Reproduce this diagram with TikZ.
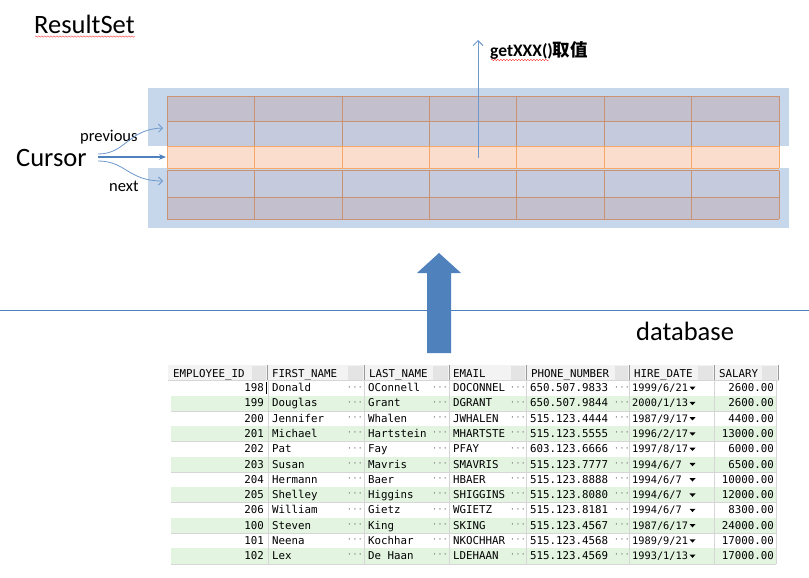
\documentclass[tikz,border=0pt]{standalone}
\usepackage{fontspec}
\setmainfont{Carlito}
\newfontfamily\cjk{Noto Sans CJK SC}
\newfontfamily\mono{DejaVu Sans Mono}
\usetikzlibrary{arrows.meta,decorations.pathmorphing}
\definecolor{bgblue}{HTML}{C6D6EB}
\definecolor{rowA}{HTML}{C4BFCC}
\definecolor{rowB}{HTML}{C5CBDC}
\definecolor{rowO}{HTML}{FADDCD}
\definecolor{gridln}{HTML}{C99373}
\definecolor{orln}{HTML}{F6A868}
\definecolor{arrblue}{HTML}{4F81BD}
\definecolor{thinblue}{HTML}{6E98CB}
\definecolor{grn}{HTML}{E3F5E1}
\definecolor{cellln}{HTML}{D6D6D6}
\definecolor{hdrln}{HTML}{9A9A9A}
\definecolor{hdrbg}{HTML}{F3F3F3}
\definecolor{btnbg}{HTML}{E4E4E4}
\tikzset{
  bigtxt/.style={anchor=base west, inner sep=0pt, font=\fontsize{26.5}{31}\selectfont},
  midtxt/.style={anchor=base west, inner sep=0pt, font=\fontsize{16.5}{19}\selectfont},
  cell/.style={anchor=base west, inner sep=0pt, font=\mono\fontsize{10.8}{13}\selectfont},
  rcell/.style={anchor=base east, inner sep=0pt, font=\mono\fontsize{10.8}{13}\selectfont},
  dcell/.style={anchor=base west, inner sep=0pt, font=\mono\fontsize{10.3}{12}\selectfont},
  dots/.style={inner sep=0pt, text=gray, font=\mono\fontsize{9}{10}\selectfont},
  thinarrow/.style={draw=thinblue, line width=0.8pt, -{Straight Barb[length=4pt,width=8pt]}},
  wavy/.style={draw=red!80, line width=0.4pt, decorate, decoration={snake, amplitude=0.7pt, segment length=3pt}}
}
\begin{document}
\begin{tikzpicture}[x=1pt,y=-1pt]
\useasboundingbox (0,0) rectangle (809,578);
\fill[white] (0,0) rectangle (809,578);

% ---------- ResultSet block ----------
\fill[bgblue] (148,88) rectangle (789,146);
\fill[bgblue] (148,168) rectangle (789,228);
\fill[rowA] (167,96) rectangle (779,121);
\fill[rowB] (167,121) rectangle (779,146);
\fill[rowO] (167,146) rectangle (779,168);
\fill[rowB] (167,170.5) rectangle (779,197);
\fill[rowA] (167,197) rectangle (779,219);
\foreach \y in {96,121,170.5,197,219} \draw[gridln, line width=0.8pt] (167,\y) -- (779,\y);
\foreach \y in {146,168} \draw[orln, line width=0.8pt] (167,\y) -- (779,\y);
\foreach \x in {167,254.4,341.9,429.3,516.7,604.1,691.6,779} {
  \draw[gridln, line width=0.8pt] (\x,96) -- (\x,146);
  \draw[orln, line width=0.8pt] (\x,146) -- (\x,168);
  \draw[gridln, line width=0.8pt] (\x,170.5) -- (\x,219);
}

\node[bigtxt] (rs) at (34,34) {ResultSet};
\draw[wavy] (rs.base west) ++(1,2.5) coordinate (wv1) -- ([xshift=0pt,yshift=-2.5pt]rs.base east);

\node[bigtxt] (cursor) at (16,166) {Cursor};
\node[midtxt] (prev) at (80,141) {previous};
\node[midtxt] (next) at (109,191) {next};

\coordinate (cs) at (98,157);
\coordinate (csu) at (98,154);
\coordinate (csd) at (98,161);
\coordinate (curRow) at (166,157);
\coordinate (prevRow) at (163,128);
\coordinate (nextRow) at (163,181);
\draw[arrblue, line width=1.5pt, -{Stealth[length=7pt,width=5.5pt]}] (cs) -- (curRow);
\draw[thinarrow] (csu) .. controls (126,154) and (128,129) .. (prevRow);
\draw[thinarrow] (csd) .. controls (126,161) and (128,181) .. (nextRow);

\coordinate (getFrom) at (478,158);
\coordinate (getTo) at (478,40);
\draw[thinblue, line width=0.9pt, -{Straight Barb[length=5pt,width=10pt]}] (getFrom) -- (getTo);
\node[anchor=base west, inner sep=0pt, font=\bfseries\fontsize{17.5}{20}\selectfont] (getx) at (490,57) {getXXX(){\cjk\bfseries 取值}};
\draw[wavy] (491,60) -- (549,60);

% ---------- separator and block arrow ----------
\draw[arrblue, line width=1pt] (0,310) -- (809,310);
\fill[arrblue] (427,353) -- (451,353) -- (451,273) -- (461,273) -- (439,253) -- (417,273) -- (427,273) -- cycle;
\node[bigtxt] (db) at (636,340) {database};

% ---------- table ----------
\fill[hdrbg] (168,365) rectangle (779,380.5);
\foreach \a/\b in {252/266,348/363,433/448,511/525,615/628,698/713,762/777}
  \fill[btnbg] (\a,366) rectangle (\b,380);
\foreach \x in {267,364,449,526,629,714,778} \draw[hdrln, line width=0.8pt] (\x,365) -- (\x,380);
\draw[cellln] (168,380.5) -- (779,380.5);
\node[cell] (h1) at (173,377) {EMPLOYEE\_ID};
\node[cell] (h2) at (272,377) {FIRST\_NAME};
\node[cell] (h3) at (369,377) {LAST\_NAME};
\node[cell] (h4) at (453,377) {EMAIL};
\node[cell] (h5) at (531,377) {PHONE\_NUMBER};
\node[cell] (h6) at (634,377) {HIRE\_DATE};
\node[cell] (h7) at (719,377) {SALARY};

\foreach \i/\id/\fn/\ln/\em/\ph/\hd/\sa in {
  0/198/Donald/OConnell/DOCONNEL/650.507.9833/{1999/6/21}/2600.00,
  1/199/Douglas/Grant/DGRANT/650.507.9844/{2000/1/13}/2600.00,
  2/200/Jennifer/Whalen/JWHALEN/515.123.4444/{1987/9/17}/4400.00,
  3/201/Michael/Hartstein/MHARTSTE/515.123.5555/{1996/2/17}/13000.00,
  4/202/Pat/Fay/PFAY/603.123.6666/{1997/8/17}/6000.00,
  5/203/Susan/Mavris/SMAVRIS/515.123.7777/{1994/6/7}/6500.00,
  6/204/Hermann/Baer/HBAER/515.123.8888/{1994/6/7}/10000.00,
  7/205/Shelley/Higgins/SHIGGINS/515.123.8080/{1994/6/7}/12000.00,
  8/206/William/Gietz/WGIETZ/515.123.8181/{1994/6/7}/8300.00,
  9/100/Steven/King/SKING/515.123.4567/{1987/6/17}/24000.00,
  10/101/Neena/Kochhar/NKOCHHAR/515.123.4568/{1989/9/21}/17000.00,
  11/102/Lex/De Haan/LDEHAAN/515.123.4569/{1993/1/13}/17000.00} {
  \pgfmathsetmacro{\top}{380.5+15.27*\i}
  \pgfmathsetmacro{\bot}{\top+15.27}
  \pgfmathsetmacro{\bl}{\top+11.2}
  \pgfmathsetmacro{\mid}{\top+7.6}
  \ifodd\i \fill[grn] (171,\top) rectangle (776,\bot); \fi
  \draw[cellln] (171,\bot) -- (776,\bot);
  \foreach \x in {268,364,449,526,629,714,776} \draw[cellln] (\x,\top) -- (\x,\bot);
  \node[rcell] (id\i) at (264,\bl) {\id};
  \node[cell] (fn\i) at (272,\bl) {\fn};
  \node[cell] (ln\i) at (368,\bl) {\ln};
  \node[cell] (em\i) at (453,\bl) {\em};
  \node[cell] (ph\i) at (530,\bl) {\ph};
  \node[dcell] (hd\i) at (632,\bl) {\hd};
  \node[rcell] (sa\i) at (774,\bl) {\sa};
  \node[dots] (b1\i) at (355,\mid) {···};
  \node[dots] (b2\i) at (440,\mid) {···};
  \node[dots] (b3\i) at (518,\mid) {···};
  \node[dots] (b4\i) at (622,\mid) {···};
  \fill (689.5,\mid-1.5) -- (695.5,\mid-1.5) -- (692.5,\mid+1.8) -- cycle;
}
\draw[black, line width=0.6pt] (266,382) -- (266,394);
\end{tikzpicture}
\end{document}
